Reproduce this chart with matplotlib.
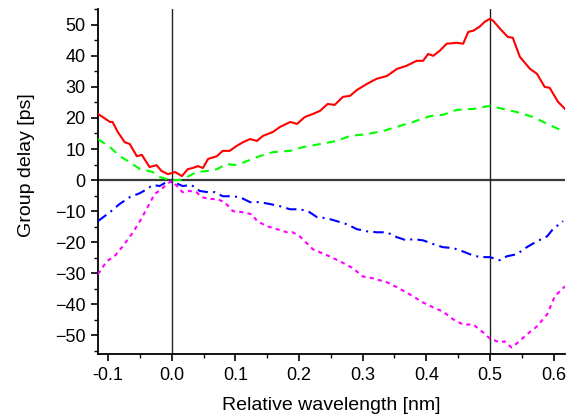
import matplotlib
matplotlib.use("Agg")
import matplotlib.pyplot as plt
from matplotlib.ticker import MultipleLocator

plt.rcParams['font.family'] = ['Liberation Sans', 'DejaVu Sans']

red_x = [-0.116, -0.097, -0.093, -0.085, -0.074, -0.066, -0.055, -0.047, -0.035, -0.024, -0.016, -0.006,
         0.005, 0.016, 0.025, 0.033, 0.041, 0.049, 0.057, 0.071, 0.080, 0.091, 0.102, 0.112, 0.123, 0.134,
         0.143, 0.159, 0.170, 0.186, 0.197, 0.209, 0.222, 0.233, 0.245, 0.256, 0.269, 0.280, 0.291, 0.307,
         0.322, 0.338, 0.354, 0.369, 0.385, 0.395, 0.403, 0.411, 0.421, 0.432, 0.448, 0.458, 0.466, 0.474,
         0.484, 0.492, 0.500, 0.505, 0.516, 0.528, 0.536, 0.547, 0.563, 0.574, 0.586, 0.594, 0.607, 0.618]
red_y = [21.3, 18.7, 18.7, 15.5, 12.2, 11.6, 7.7, 8.1, 4.2, 4.8, 2.9, 1.9,
         2.6, 1.3, 3.5, 3.9, 4.5, 3.9, 6.8, 7.7, 9.4, 9.4, 11.0, 12.2, 13.2, 12.6,
         14.2, 15.5, 17.1, 18.7, 18.1, 20.3, 21.3, 22.3, 24.5, 24.2, 26.8, 27.1, 29.0, 31.0,
         32.6, 33.5, 35.8, 36.8, 38.4, 38.4, 40.6, 40.0, 41.6, 43.9, 44.2, 43.9, 47.7, 48.1,
         49.4, 51.0, 51.9, 51.3, 48.7, 46.1, 45.8, 39.7, 35.8, 34.2, 30.0, 29.7, 25.2, 22.9]

green_x = [-0.116, -0.097, -0.082, -0.066, -0.050, -0.042, -0.030, -0.019, -0.003, 0.013, 0.024, 0.039,
           0.055, 0.071, 0.086, 0.102, 0.118, 0.138, 0.159, 0.186, 0.206, 0.233, 0.259, 0.280, 0.307,
           0.332, 0.358, 0.379, 0.406, 0.426, 0.448, 0.474, 0.500, 0.521, 0.542, 0.568, 0.594, 0.618]
green_y = [13.2, 10.6, 7.7, 5.8, 3.5, 3.2, 2.6, 1.0, 0.0, 0.0, 1.0, 2.6,
           2.9, 3.5, 5.2, 4.8, 6.1, 7.7, 9.0, 9.4, 10.6, 11.6, 12.6, 14.2, 14.8,
           15.8, 17.4, 18.7, 20.6, 21.0, 22.6, 22.9, 23.9, 22.9, 21.9, 20.3, 17.7, 15.5]

blue_x = [-0.116, -0.097, -0.082, -0.066, -0.050, -0.039, -0.030, -0.019, -0.008, 0.002, 0.017, 0.031,
          0.044, 0.057, 0.068, 0.080, 0.094, 0.107, 0.123, 0.138, 0.154, 0.170, 0.186, 0.201, 0.214,
          0.228, 0.244, 0.259, 0.275, 0.291, 0.307, 0.322, 0.338, 0.354, 0.369, 0.379, 0.395, 0.411,
          0.426, 0.442, 0.453, 0.469, 0.484, 0.500, 0.516, 0.527, 0.542, 0.558, 0.574, 0.590, 0.599, 0.615]
blue_y = [-13.2, -10.3, -7.7, -5.5, -4.2, -2.9, -1.6, -1.9, -0.6, -0.6, -1.9, -1.6,
          -3.5, -3.9, -3.9, -5.2, -5.2, -5.5, -7.1, -7.1, -7.7, -8.4, -9.4, -9.4, -10.0,
          -11.9, -12.3, -13.2, -14.2, -15.8, -16.5, -16.8, -16.8, -18.4, -19.4, -19.0, -19.4, -20.6,
          -21.6, -21.9, -22.6, -23.9, -24.8, -24.8, -25.8, -24.5, -23.9, -21.6, -19.7, -18.1, -15.8, -13.2]

mag_x = [-0.116, -0.102, -0.090, -0.077, -0.063, -0.050, -0.038, -0.027, -0.016, -0.008, 0.000, 0.008,
         0.017, 0.028, 0.039, 0.047, 0.060, 0.071, 0.083, 0.096, 0.110, 0.126, 0.134, 0.149, 0.165,
         0.181, 0.190, 0.201, 0.222, 0.244, 0.264, 0.285, 0.300, 0.316, 0.338, 0.354, 0.374, 0.395,
         0.411, 0.426, 0.442, 0.458, 0.474, 0.489, 0.500, 0.516, 0.523, 0.534, 0.544, 0.558, 0.574,
         0.590, 0.602, 0.618]
mag_y = [-30.3, -26.1, -24.5, -21.3, -17.4, -13.2, -8.7, -4.5, -2.9, -1.3, -0.3, -1.9,
         -3.9, -3.5, -3.9, -5.5, -6.1, -6.1, -7.1, -10.0, -10.3, -11.0, -13.2, -14.8, -15.8,
         -16.8, -16.8, -18.1, -22.3, -24.2, -26.1, -28.4, -31.0, -31.6, -32.9, -34.5, -36.8, -39.4,
         -41.0, -42.3, -44.8, -46.5, -46.5, -49.0, -51.0, -52.3, -51.9, -53.9, -52.3, -49.7, -47.1,
         -43.2, -37.4, -34.2]

xticks = [-0.1, 0.0, 0.1, 0.2, 0.3, 0.4, 0.5, 0.6]
xticklabels = ['-0.1', '0.0', '0.1', '0.2', '0.3', '0.4', '0.5', '0.6']
yticks = [-50, -40, -30, -20, -10, 0, 10, 20, 30, 40, 50]

fig = plt.figure(figsize=(5.73, 4.19), dpi=100)
ax = fig.add_axes([0.171, 0.155, 0.815, 0.823])

ax.axhline(0, color='#3a3a3a', lw=1.6, zorder=1)
ax.axvline(0.0, color='#222222', lw=1.0, zorder=1)
ax.axvline(0.5, color='#222222', lw=1.0, zorder=1)

ax.plot(red_x, red_y, color='#ff0000', lw=1.5, ls='-', zorder=3)
ax.plot(green_x, green_y, color='#00ff00', lw=1.5, ls=(0, (4, 3)), zorder=3)
ax.plot(blue_x, blue_y, color='#0000ff', lw=1.5, ls=(0, (5, 2.5, 1, 2.5)), zorder=3)
ax.plot(mag_x, mag_y, color='#ff00ff', lw=1.5, ls=(0, (2, 2)), zorder=3)

ax.set_xlim(-0.116, 0.618)
ax.set_ylim(-56, 55)
ax.set_xticks(xticks)
ax.set_xticklabels(xticklabels)
ax.set_yticks(yticks)
ax.xaxis.set_minor_locator(MultipleLocator(0.05))
ax.yaxis.set_minor_locator(MultipleLocator(5))
ax.tick_params(which='major', direction='out', length=5, width=1.2, labelsize=13, colors='black', pad=4)
ax.tick_params(which='minor', direction='out', length=3, width=1.0)

for s in ['top', 'right']:
    ax.spines[s].set_visible(False)
for s in ['left', 'bottom']:
    ax.spines[s].set_linewidth(1.3)

ax.set_xlabel('Relative wavelength [nm]', fontsize=14)
ax.set_ylabel('Group delay [ps]', fontsize=14)
ax.xaxis.set_label_coords(0.5, -0.125)
ax.yaxis.set_label_coords(-0.135, 0.548)

fig.savefig('out.png', dpi=100)
